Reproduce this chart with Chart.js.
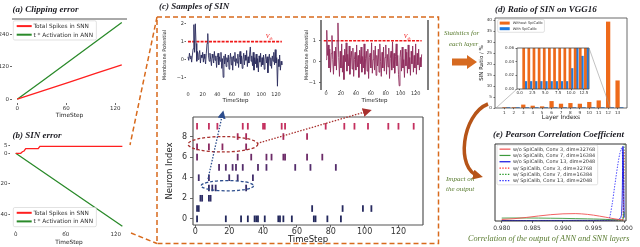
<!DOCTYPE html>
<html><head><meta charset="utf-8">
<script src="https://cdn.jsdelivr.net/npm/chart.js@4.4.1/dist/chart.umd.min.js"></script>
<style>
html,body{margin:0;padding:0;background:#fff;}
#fig{position:relative;width:640px;height:247px;overflow:hidden;background:#fff;}
canvas{position:absolute;left:0;top:0;}
svg{position:absolute;left:0;top:0;}
.t{position:absolute;white-space:nowrap;line-height:1;}
.pt{font-family:'Liberation Serif',serif;font-weight:bold;font-style:italic;font-size:9px;color:#1b1b22;}
.gn{font-family:'Liberation Serif',serif;font-style:italic;color:#587a2e;font-size:7px;}
</style></head><body><div id="fig">
<canvas id="cA" width="640" height="247"></canvas>
<canvas id="cB" width="640" height="247"></canvas>
<canvas id="cC1" width="640" height="247"></canvas>
<canvas id="cC2" width="640" height="247"></canvas>
<canvas id="cR" width="640" height="247"></canvas>
<canvas id="cD" width="640" height="247"></canvas>
<canvas id="cDi" width="640" height="247"></canvas>
<canvas id="cE" width="640" height="247"></canvas>
<svg width="640" height="247" viewBox="0 0 640 247">
<defs>
<marker id="mb" viewBox="0 0 10 10" refX="8" refY="5" markerWidth="8" markerHeight="8" markerUnits="userSpaceOnUse" orient="auto"><path d="M0,0 L10,5 L0,10 z" fill="#2d4e8e"/></marker>
<marker id="mr" viewBox="0 0 10 10" refX="8" refY="5" markerWidth="9" markerHeight="9" markerUnits="userSpaceOnUse" orient="auto"><path d="M0,0 L10,5 L0,10 z" fill="#a8302e"/></marker>
<marker id="mc" viewBox="0 0 10 10" refX="6" refY="5" markerWidth="10" markerHeight="10" markerUnits="userSpaceOnUse" orient="auto"><path d="M0,0 L10,5 L0,10 z" fill="#b65418"/></marker>
</defs>
<path d="M157,17 H438.5 V243.5 H157 Z" fill="none" stroke="#d86a1c" stroke-width="1.5" stroke-dasharray="5 3"/>
<line x1="157" y1="17" x2="130" y2="145" stroke="#d86a1c" stroke-width="1.5" stroke-dasharray="5 3"/>
<line x1="131" y1="233" x2="157" y2="243.5" stroke="#d86a1c" stroke-width="1.5" stroke-dasharray="5 3"/>
<line x1="208" y1="179" x2="223" y2="112" stroke="#2d4e8e" stroke-width="1.3" stroke-dasharray="1.5 1.5" marker-end="url(#mb)"/>
<line x1="257" y1="143.5" x2="370" y2="110.5" stroke="#a8302e" stroke-width="1.3" stroke-dasharray="1.5 1.5" marker-end="url(#mr)"/>
<polygon points="452,58.5 467,58.5 467,55 477,62 467,69 467,65.5 452,65.5" fill="#d66a20"/>
<path d="M488,104 C462,114 455,170 479,176" fill="none" stroke="#b65418" stroke-width="3.5" marker-end="url(#mc)"/>
<line x1="517" y1="89" x2="496" y2="108" stroke="#999" stroke-width="0.6"/>
<line x1="589" y1="48" x2="610" y2="107" stroke="#999" stroke-width="0.6"/>
</svg>
<div class="t pt" style="left:12.5px;top:4.5px">(a) Clipping error</div>
<div class="t pt" style="left:12.5px;top:130.5px">(b) SIN error</div>
<div class="t pt" style="left:159px;top:2px">(c) Samples of SIN</div>
<div class="t pt" style="left:495px;top:5px">(d) Ratio of SIN on VGG16</div>
<div class="t pt" style="left:493px;top:129.5px">(e) Pearson Correlation Coefficient</div>
<div class="t gn" style="left:444px;top:29.5px">Statistics for</div>
<div class="t gn" style="left:449px;top:40.5px">each layer</div>
<div class="t gn" style="left:446px;top:176px">Impact on</div>
<div class="t gn" style="left:446px;top:186px">the output</div>
<div class="t gn" style="left:468px;top:234.5px;font-size:8.2px">Correlation of the output of ANN and SNN layers</div>
</div>
<script>
// ---------------- data ----------------
// (a) clipping error
const aTime = [0, 32, 64, 96, 128];
const aSpikesSNN = [0, 32, 63, 95, 127];
const aActANN = [0, 70, 141, 212, 283];
const aTicksX = [0, 60, 120];
const aTicksY = [0, 120, 240];
// (b) SIN error
const bTimeSNN = [0, 6, 8, 10, 12, 27, 29, 128];
const bSpikesSNN = [0, 0, 1, 1.5, 3, 3, 4.5, 4.5];
const bTimeANN = [0, 32, 64, 96, 128];
const bActANN = [0, -11.9, -23.8, -35.6, -47.5];
const bTicksX = [0, 60, 120];
const bTicksY = [-40, -20, 0, 5];
// (c) membrane potential samples (t = 0..128)
const potentialA = [0.15,-0.05,0.35,0.05,0.2,-0.15,0.25,0.6,1.95,0.4,2.0,0.9,-0.1,0.45,0.0,0.3,0.5,-0.2,0.25,0.1,
0.4,-0.15,0.3,0.05,-0.25,0.35,0.9,1.45,0.2,-0.1,0.35,0.0,-0.35,0.3,0.1,-0.2,0.45,-0.05,0.2,-0.45,
0.1,0.35,-0.3,0.15,-0.1,0.4,-0.5,0.05,-1.0,0.2,-0.25,0.3,-0.4,0.1,-0.15,0.25,-0.55,0.0,0.35,-0.3,
0.15,-0.6,0.2,-0.1,0.4,-0.35,0.05,-0.2,0.3,-0.45,0.1,0.45,-0.25,0.2,-0.5,0.0,0.35,-0.3,0.25,-0.05,
0.5,-0.4,0.15,-0.2,0.3,0.7,-0.1,0.2,-0.35,0.4,-0.6,0.1,-0.25,0.3,-0.45,0.05,-0.7,0.2,-0.15,0.35,
-0.4,0.1,-0.3,0.25,-0.55,0.0,0.3,-0.2,0.15,-0.75,0.05,0.3,-0.35,0.1,-0.5,0.2,-0.1,0.4,-0.3,0.55,
-0.2,0.1,-1.5,0.0,-0.4,0.25,-0.6,-0.1,-0.3];
const potentialB = [0.1,1.5,0.3,0.8,-0.3,0.6,-0.5,0.4,1.25,0.1,-0.6,0.5,-0.2,0.7,-0.4,1.0,1.85,0.2,-0.7,0.5,
-0.3,0.85,-0.5,0.3,-0.85,0.6,0.0,0.9,-0.45,0.35,-0.2,0.75,-0.6,0.2,0.5,-0.35,0.65,-0.7,0.1,0.45,
-0.4,0.8,-0.25,0.3,-0.75,0.55,-0.1,0.7,-0.5,0.25,-0.3,0.85,-0.6,0.15,0.5,-0.45,0.6,-0.8,0.2,0.4,
-0.3,0.9,-0.55,0.1,0.55,-0.4,0.75,-0.65,0.3,-0.2,0.6,-0.5,0.85,0.0,-0.7,0.45,-0.3,0.7,-0.45,0.2,
0.8,-0.6,0.35,-0.25,0.65,-0.8,0.15,0.5,-0.4,0.95,-0.3,0.4,-0.55,0.25,0.85,-0.2,0.3,-0.6,-1.15,0.2,
0.55,-0.45,0.7,-0.3,0.1,-0.75,0.6,-0.2,0.45,-0.55,0.8,-0.35,0.2,-0.65,0.5,-0.1,0.75,-0.5,0.3,-0.3,
0.85,-0.6,0.4,-0.15,0.6,-0.4,0.2,-0.25,0.35];
const cTicksX = [0, 20, 40, 60, 80, 100, 120];
const cTicksYA = [-1, 0, 1, 2];
const cTicksYB = [-1, 0, 1];
const vThreshold = 1;
// raster: spike timesteps for neurons 0..9
const neuron0 = [1, 18, 27, 31, 35, 36, 37, 41, 49, 50, 52, 57, 70, 71, 78, 86];
const neuron1 = [1, 2, 69, 87, 99, 104];
const neuron2 = [3, 4, 8, 9];
const neuron3 = [8, 10, 12, 30];
const neuron4 = [2, 8, 20, 25, 34];
const neuron5 = [14, 18, 22, 24, 28, 37, 42, 59, 68, 83];
const neuron6 = [1, 25, 33, 42, 45, 52, 53, 66, 75];
const neuron7 = [1, 8, 16, 30];
const neuron8 = [25, 30, 52, 66];
const neuron9 = [1, 8, 13, 28, 31, 40, 41, 51, 53, 77, 88, 94, 102, 114, 120, 129];
const rTicksX = [0, 20, 40, 60, 80, 100, 120];
const rTicksY = [0, 2, 4, 6, 8];
// (d) ratio of SIN per layer (%)
const layers = [1, 2, 3, 4, 5, 6, 7, 8, 9, 10, 11, 12, 13];
const sinWithout = [0.1, 0.1, 1.4, 0.9, 0.6, 3.0, 1.8, 2.1, 1.8, 2.6, 3.3, 39.2, 12.4];
const sinWith = [0.011, 0.011, 0.011, 0.011, 0.011, 0.011, 0.011, 0.011, 0.011, 0.030, 0.07, 0.048, 0.07];
const dTicksY = [0, 5, 10, 15, 20, 25, 30, 35, 40];
const dInsetTicksX = [0, 2.5, 5, 7.5, 10, 12.5];
const dInsetTicksY = [0, 0.02, 0.04, 0.06];
// (e) Pearson correlation densities
const corrGrid = [0.980,0.982,0.984,0.986,0.988,0.990,0.992,0.994,0.995,0.996,0.997,0.9975,0.998,0.9985,0.999,0.9993,0.9995,0.9996,0.9997,0.9998,0.9999,1.0000];
const woConv3 = [2.0,3.0,4.6,6.5,8.2,9.3,9.6,8.6,7.6,6.3,4.9,4.1,3.4,2.7,2.1,1.8,1.6,1.5,1.4,1.4,1.3,1.2];
const woConv7 = [3.8,3.9,3.9,3.8,3.6,3.4,3.1,2.8,2.6,2.4,2.1,1.9,1.7,1.5,1.3,1.2,1.2,1.3,1.6,2.5,6.0,12.0];
const woConv13 = [0.6,0.6,0.6,0.7,0.7,0.7,0.8,0.8,0.8,0.9,1.0,1.0,1.1,1.3,1.8,3.0,6.0,12.0,40.0,97.0,60.0,5.0];
const wConv3 = [0,0,0,0,0,0,0,0,0,0,0,0,0,0.1,0.1,0.2,0.3,0.5,1.0,3.0,30.0,92.0];
const wConv7 = [0,0,0,0,0,0,0,0,0,0,0,0,0,0,0,0.1,0.2,0.3,0.6,2.0,20.0,106.0];
const wConv13 = [0,0,0,0,0,0,0,0,0,0,0.2,2.0,20.0,48.0,75.0,88.0,93.0,95.0,90.0,60.0,15.0,2.0];
const eTicksX = [0.980, 0.985, 0.990, 0.995, 1.000];

// ---------------- helpers ----------------
Chart.defaults.animation = false;
Chart.defaults.responsive = false;
Chart.defaults.devicePixelRatio = 1;
Chart.defaults.events = [];
Chart.defaults.font.family = "'DejaVu Sans', sans-serif";
Chart.defaults.color = '#333';
Chart.defaults.plugins.legend.display = false;
Chart.defaults.plugins.tooltip.enabled = false;

const xy = (xs, ys) => xs.map((x, i) => ({ x, y: ys[i] }));
const steps = potentialA.map((_, i) => i);
const minus = v => String(v).replace('-', '\u2212');

function lay(A, yW, xH) {
  return { padding: { left: A.l - yW, top: A.t, right: 640 - A.r, bottom: 247 - A.b - xH } };
}
function mkScale(o) {
  return {
    type: 'linear', min: o.min, max: o.max, offset: false,
    border: { display: false },
    grid: { display: (o.tl || 0) > 0, drawOnChartArea: false, drawTicks: (o.tl || 0) > 0, tickLength: o.tl || 0, color: '#444', lineWidth: 0.8, offset: false },
    ticks: { display: o.labels !== false, font: { size: o.size || 5 }, color: o.color || '#333', padding: o.pad ?? 1, maxRotation: 0, minRotation: 0, autoSkip: false, callback: o.fmt || (v => minus(v)) },
    title: o.title ? { display: true, text: o.title, font: { size: o.tsize }, color: '#222', padding: 0 } : { display: false },
    afterBuildTicks: sc => { sc.ticks = (o.tv || []).map(v => ({ value: v })); },
    afterFit: sc => {
      if (o.W != null) sc.width = o.W;
      if (o.H != null) sc.height = o.H;
      sc.paddingLeft = 0; sc.paddingRight = 0; sc.paddingTop = 0; sc.paddingBottom = 0;
    }
  };
}
const framePlugin = {
  id: 'frame',
  beforeDatasetsDraw(chart, args, o) {
    if (!o.bg) return;
    const a = chart.chartArea, c = chart.ctx;
    c.save(); c.fillStyle = o.bg; c.fillRect(a.left, a.top, a.right - a.left, a.bottom - a.top); c.restore();
  },
  afterDatasetsDraw(chart, args, o) {
    if (!o.sides) return;
    const { left, right, top, bottom } = chart.chartArea; const c = chart.ctx;
    c.save(); c.strokeStyle = o.color || '#444'; c.lineWidth = o.width || 1; c.beginPath();
    if (o.sides.includes('top')) { c.moveTo(left, top); c.lineTo(right, top); }
    if (o.sides.includes('bottom')) { c.moveTo(left, bottom); c.lineTo(right, bottom); }
    if (o.sides.includes('left')) { c.moveTo(left, top); c.lineTo(left, bottom); }
    if (o.sides.includes('right')) { c.moveTo(right, top); c.lineTo(right, bottom); }
    c.stroke(); c.restore();
  }
};
const legendPlugin = {
  id: 'boxLegend',
  afterDraw(chart, args, o) {
    if (o.x == null) return;
    const c = chart.ctx;
    const items = chart.data.datasets.filter(d => d.label);
    c.save();
    c.font = o.size + "px 'DejaVu Sans'";
    const tw = Math.max(...items.map(d => c.measureText(d.label).width));
    const w = o.padX * 2 + o.sym + o.gap + tw, h = o.padY * 2 + o.row * items.length;
    c.fillStyle = 'rgba(255,255,255,0.85)'; c.strokeStyle = '#cfcfcf'; c.lineWidth = 0.6;
    c.beginPath(); c.roundRect(o.x, o.y, w, h, 1.5); c.fill(); c.stroke();
    items.forEach((d, i) => {
      const cy = o.y + o.padY + o.row * (i + 0.5);
      const sx = o.x + o.padX;
      if (o.patch) {
        c.fillStyle = d.backgroundColor; c.fillRect(sx, cy - o.ph / 2, o.sym, o.ph);
      } else {
        c.strokeStyle = d.borderColor; c.lineWidth = o.lw || d.borderWidth; c.setLineDash(d.borderDash || []);
        c.beginPath(); c.moveTo(sx, cy); c.lineTo(sx + o.sym, cy); c.stroke(); c.setLineDash([]);
      }
      c.fillStyle = '#333'; c.textBaseline = 'middle'; c.textAlign = 'left';
      c.fillText(d.label, sx + o.sym + o.gap, cy + 0.3);
    });
    c.restore();
  }
};
const annotPlugin = {
  id: 'annot',
  afterDatasetsDraw(chart, args, o) {
    const c = chart.ctx, xs = chart.scales.x, ys = chart.scales.y;
    (o.ellipses || []).forEach(e => {
      const cx = xs.getPixelForValue(e.cx), cy = ys.getPixelForValue(e.cy);
      const rx = Math.abs(xs.getPixelForValue(e.cx + e.rx) - cx), ry = Math.abs(ys.getPixelForValue(e.cy + e.ry) - cy);
      c.save(); c.strokeStyle = e.color; c.lineWidth = e.width; c.setLineDash(e.dash);
      c.beginPath(); c.ellipse(cx, cy, rx, ry, 0, 0, Math.PI * 2); c.stroke(); c.restore();
    });
    (o.labels || []).forEach(l => {
      const x = xs.getPixelForValue(l.x), y = ys.getPixelForValue(l.y);
      c.save(); c.fillStyle = l.color; c.font = l.font; c.textBaseline = 'alphabetic';
      c.fillText(l.text, x, y);
      const w = c.measureText(l.text).width;
      c.font = l.subFont; c.fillText(l.sub, x + w, y + 1.5);
      c.restore();
    });
  }
};
Chart.register(framePlugin, legendPlugin, annotPlugin);
const lineDs = (label, data, color, width, dash) => ({ label, data, borderColor: color, backgroundColor: color, borderWidth: width, borderDash: dash || [], showLine: true, pointRadius: 0, fill: false });

// ---------------- (a) ----------------
const A = { l: 12, r: 127, t: 19, b: 103 };
new Chart(document.getElementById('cA'), {
  type: 'scatter',
  data: { datasets: [
    lineDs('Total Spikes in SNN', xy(aTime, aSpikesSNN), '#ff1f1f', 1.3),
    lineDs('t * Activation in ANN', xy(aTime, aActANN), '#2a8a2a', 1.3)
  ] },
  options: {
    layout: lay(A, 12, 16),
    scales: {
      x: mkScale({ min: -6.4, max: 134.4, tv: aTicksX, size: 5.5, tl: 2, pad: 0, H: 16, title: 'TimeStep', tsize: 5.8 }),
      y: mkScale({ min: -14, max: 296, tv: aTicksY, size: 5.5, tl: 2, pad: 1, W: 12 })
    },
    plugins: {
      frame: { sides: ['top'], color: '#555', width: 1 },
      boxLegend: { x: 13.3, y: 20.8, padX: 3.4, padY: 1, row: 8.6, sym: 15, gap: 1.8, size: 5.8, lw: 2 }
    }
  }
});

// ---------------- (b) ----------------
const B = { l: 10.4, r: 127.7, t: 141.6, b: 230.7 };
new Chart(document.getElementById('cB'), {
  type: 'scatter',
  data: { datasets: [
    lineDs('Total Spikes in SNN', xy(bTimeSNN, bSpikesSNN), '#ff1f1f', 1.3),
    lineDs('t * Activation in ANN', xy(bTimeANN, bActANN), '#2a8a2a', 1.3)
  ] },
  options: {
    layout: lay(B, 10.4, 15),
    scales: {
      x: mkScale({ min: -6.4, max: 134.4, tv: bTicksX, size: 5.5, tl: 1, pad: 0, H: 15, title: 'TimeStep', tsize: 5.8 }),
      y: mkScale({ min: -50.4, max: 7.6, tv: bTicksY, size: 5.5, tl: 2, pad: 1, W: 10.4 })
    },
    plugins: {
      boxLegend: { x: 13.3, y: 207.5, padX: 3.4, padY: 1, row: 8.6, sym: 15, gap: 1.8, size: 5.8, lw: 2 }
    }
  }
});

// ---------------- (c) sample 1 ----------------
const C1 = { l: 186, r: 285, t: 22, b: 88 };
new Chart(document.getElementById('cC1'), {
  type: 'scatter',
  data: { datasets: [
    lineDs('', xy(steps, potentialA), '#2b2d5e', 0.9),
    lineDs('', xy([0, 128], [vThreshold, vThreshold]), '#f01818', 1.6, [3, 1.2])
  ] },
  options: {
    layout: lay(C1, 24, 16),
    scales: {
      x: mkScale({ min: -2.7, max: 132.3, tv: cTicksX, size: 5, tl: 0, pad: 3.5, H: 16, title: 'TimeStep', tsize: 5.5 }),
      y: mkScale({ min: -1.6, max: 2.1, tv: cTicksYA, size: 5, tl: 1.5, pad: 0.5, W: 24, title: 'Membrane Potential', tsize: 5 })
    },
    plugins: {
      annot: { labels: [{ text: 'V', sub: 'th', x: 106, y: 1.2, color: '#f01818', font: "italic 6px 'Liberation Serif'", subFont: "italic 4px 'Liberation Serif'" }] }
    }
  }
});

// ---------------- (c) sample 2 ----------------
const C2 = { l: 321, r: 428, t: 20, b: 90 };
new Chart(document.getElementById('cC2'), {
  type: 'scatter',
  data: { datasets: [
    lineDs('', xy(steps, potentialB), '#8e2c5c', 0.9),
    lineDs('', xy([-3, 128], [vThreshold, vThreshold]), '#f01818', 1.6, [3, 1.2])
  ] },
  options: {
    layout: lay(C2, 17, 14.3),
    scales: {
      x: mkScale({ min: -6.7, max: 136.5, tv: cTicksX, size: 5, tl: 1, pad: 0, H: 14.3, title: 'TimeStep', tsize: 5.5 }),
      y: mkScale({ min: -1.35, max: 1.99, tv: cTicksYB, size: 5, tl: 2, pad: 3, W: 17, title: 'Membrane Potential', tsize: 5 })
    },
    plugins: {
      frame: { sides: ['left', 'right'], color: '#555', width: 1.5 },
      annot: { labels: [{ text: 'V', sub: 'th', x: 104, y: 1.12, color: '#f01818', font: "italic 6px 'Liberation Serif'", subFont: "italic 4px 'Liberation Serif'" }] }
    }
  }
});

// ---------------- (c) raster ----------------
const R = { l: 193, r: 423, t: 117, b: 225 };
const neurons = [neuron0, neuron1, neuron2, neuron3, neuron4, neuron5, neuron6, neuron7, neuron8, neuron9];
const neuronColors = ['#23285c', '#272a60', '#2d2c66', '#352d69', '#412d6b', '#532c6b', '#6c2b68', '#8a2a62', '#a8295c', '#c4305f'];
new Chart(document.getElementById('cR'), {
  type: 'scatter',
  data: { datasets: neurons.map((arr, k) => ({
    data: arr.map(t => ({ x: t, y: k })),
    pointStyle: 'line', pointRadius: 3.3, pointRotation: 90, pointBorderWidth: 1.8,
    pointBorderColor: neuronColors[k], pointBackgroundColor: neuronColors[k], borderColor: neuronColors[k]
  })) },
  options: {
    layout: lay(R, 28, 20),
    scales: {
      x: mkScale({ min: -1.4, max: 134.5, tv: rTicksX, size: 8, tl: 2.5, pad: 0, H: 20, title: 'TimeStep', tsize: 8.5 }),
      y: mkScale({ min: -0.6, max: 9.9, tv: rTicksY, size: 8, tl: 3, pad: 3, W: 28, title: 'Neuron Index', tsize: 8.5 })
    },
    plugins: {
      frame: { sides: ['top', 'bottom', 'left', 'right'], color: '#555', width: 1.2 },
      annot: { ellipses: [
        { cx: 16.3, cy: 7.25, rx: 20.6, ry: 0.75, color: '#a8302e', width: 1.3, dash: [3, 2] },
        { cx: 18.9, cy: 3.22, rx: 15.5, ry: 0.5, color: '#2d4e8e', width: 1.3, dash: [3, 2] }
      ] }
    }
  }
});

// ---------------- (d) main ----------------
const D = { l: 495, r: 627, t: 18, b: 108 };
new Chart(document.getElementById('cD'), {
  type: 'bar',
  data: { datasets: [
    { label: 'Without SpiCalib', data: xy(layers, sinWithout), backgroundColor: '#ee6a1a', grouped: false, maxBarThickness: 3.6, barPercentage: 1, categoryPercentage: 1 },
    { label: 'With SpiCalib', data: xy(layers.map(l => l + 0.4), sinWith), backgroundColor: '#1f7be0', grouped: false, maxBarThickness: 3.6, barPercentage: 1, categoryPercentage: 1 }
  ] },
  options: {
    layout: lay(D, 17, 13),
    scales: {
      x: mkScale({ min: 0, max: 14, tv: layers, size: 4.2, tl: 1.2, pad: 1, H: 13, title: 'Layer Indexs', tsize: 6 }),
      y: mkScale({ min: 0, max: 41, tv: dTicksY, size: 4.2, tl: 1.5, pad: 1.5, W: 17, title: 'SIN Ratio / %', tsize: 5.5 })
    },
    plugins: {
      frame: { sides: ['top', 'bottom', 'left', 'right'], color: '#444', width: 0.8 },
      boxLegend: { x: 497.7, y: 19.5, padX: 2, padY: 0.8, row: 5.6, sym: 10, gap: 3, size: 3.6, patch: true, ph: 3 }
    }
  }
});

// ---------------- (d) inset ----------------
const Di = { l: 517, r: 589, t: 48, b: 89 };
new Chart(document.getElementById('cDi'), {
  type: 'bar',
  data: { datasets: [
    { label: 'Without SpiCalib', data: xy(layers.map(l => l - 0.2), sinWithout), backgroundColor: '#ee6a1a', grouped: false, maxBarThickness: 2.2, barPercentage: 1, categoryPercentage: 1 },
    { label: 'With SpiCalib', data: xy(layers.map(l => l + 0.2), sinWith), backgroundColor: '#1f7be0', grouped: false, maxBarThickness: 2.2, barPercentage: 1, categoryPercentage: 1 }
  ] },
  options: {
    layout: lay(Di, 14, 8),
    scales: {
      x: mkScale({ min: -0.5, max: 13.5, tv: dInsetTicksX, size: 4, tl: 1.2, pad: 0.5, H: 8, fmt: v => v.toFixed(1) }),
      y: mkScale({ min: 0, max: 0.06, tv: dInsetTicksY, size: 4, tl: 1.5, pad: 1.5, W: 14, fmt: v => v.toFixed(2) })
    },
    plugins: {
      frame: { bg: '#ffffff', sides: ['top', 'bottom', 'left', 'right'], color: '#444', width: 0.8 }
    }
  }
});

// ---------------- (e) ----------------
const E = { l: 495, r: 626, t: 144, b: 221 };
const eDs = (label, vals, color, dash) => Object.assign(lineDs(label, xy(corrGrid, vals), color, 0.9, dash), { cubicInterpolationMode: 'monotone' });
new Chart(document.getElementById('cE'), {
  type: 'scatter',
  data: { datasets: [
    eDs('w/o SpiCalib, Conv 3, dim=32768', woConv3, '#f05050'),
    eDs('w/o SpiCalib, Conv 7, dim=16384', woConv7, '#3c9a3c'),
    eDs('w/o SpiCalib, Conv 13, dim=2048', woConv13, '#1010e0'),
    eDs('w/ SpiCalib, Conv 3, dim=32768', wConv3, '#ff3030', [1.4, 1.4]),
    eDs('w/ SpiCalib, Conv 7, dim=16384', wConv7, '#2a9a2a', [1.4, 1.4]),
    eDs('w/ SpiCalib, Conv 13, dim=2048', wConv13, '#3030ff', [1.4, 1.4])
  ] },
  options: {
    layout: lay(E, 0, 10),
    scales: {
      x: mkScale({ min: 0.9789, max: 1.0003, tv: eTicksX, size: 6, tl: 2, pad: 1.5, H: 10, fmt: v => v.toFixed(3) }),
      y: mkScale({ min: 0, max: 100, tv: [], labels: false, W: 0 })
    },
    plugins: {
      frame: { sides: ['top', 'bottom', 'left', 'right'], color: '#333', width: 1 },
      boxLegend: { x: 497, y: 145, padX: 2.5, padY: 1, row: 6.3, sym: 11, gap: 2.5, size: 4.9, lw: 1.2 }
    }
  }
});
</script>
</body></html>
